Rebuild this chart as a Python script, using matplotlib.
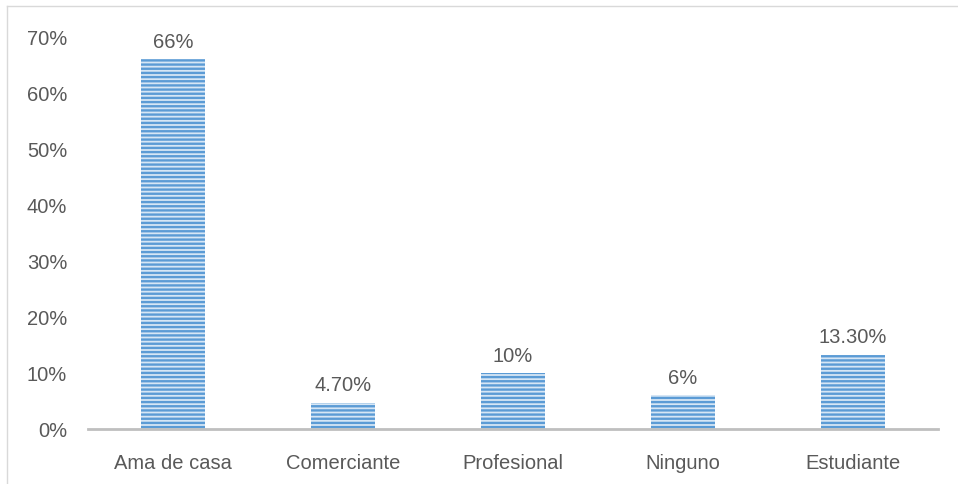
import matplotlib.pyplot as plt
from matplotlib.lines import Line2D
from matplotlib.ticker import FuncFormatter

# data
categories = ["Ama de casa", "Comerciante", "Profesional", "Ninguno", "Estudiante"]
values = [66, 4.7, 10, 6, 13.3]
labels = ["66%", "4.70%", "10%", "6%", "13.30%"]

plt.rcParams["font.family"] = ["Liberation Sans", "DejaVu Sans"]
plt.rcParams["hatch.linewidth"] = 1.7
plt.rcParams["hatch.color"] = "#5B9BD5"

text_color = "#595959"
fs = 14.5

fig = plt.figure(figsize=(9.58, 4.85), dpi=100)
ax = fig.add_axes([88 / 958, 55 / 485, 850 / 958, 392 / 485])

x = range(len(categories))
bars = ax.bar(x, values, width=0.38, color="#D6E6F5", edgecolor="#5B9BD5",
              linewidth=0, hatch="----")
for b, lab in zip(bars, labels):
    ax.annotate(lab, (b.get_x() + b.get_width() / 2, b.get_height()),
                xytext=(0, 6), textcoords="offset points", ha="center",
                va="bottom", fontsize=fs, color=text_color)

ax.set_xlim(-0.5, len(categories) - 0.5)
ax.set_ylim(0, 70)
ax.set_yticks(range(0, 71, 10))
ax.yaxis.set_major_formatter(FuncFormatter(lambda v, _: f"{v:.0f}%"))
ax.set_xticks(list(x))
ax.set_xticklabels(categories)
ax.tick_params(axis="both", length=0, labelsize=fs, colors=text_color)
ax.tick_params(axis="y", pad=15)
ax.tick_params(axis="x", pad=17)

for s in ["top", "right", "left"]:
    ax.spines[s].set_visible(False)
ax.spines["bottom"].set_color("#BFBFBF")
ax.spines["bottom"].set_linewidth(2)

# light outer frame (left and top edges)
fig.add_artist(Line2D([7 / 958, 7 / 958], [0, 1 - 7 / 485], color="#D9D9D9", lw=1))
fig.add_artist(Line2D([7 / 958, 1], [1 - 7 / 485, 1 - 7 / 485], color="#D9D9D9", lw=1))

fig.savefig("out.png", dpi=100)
